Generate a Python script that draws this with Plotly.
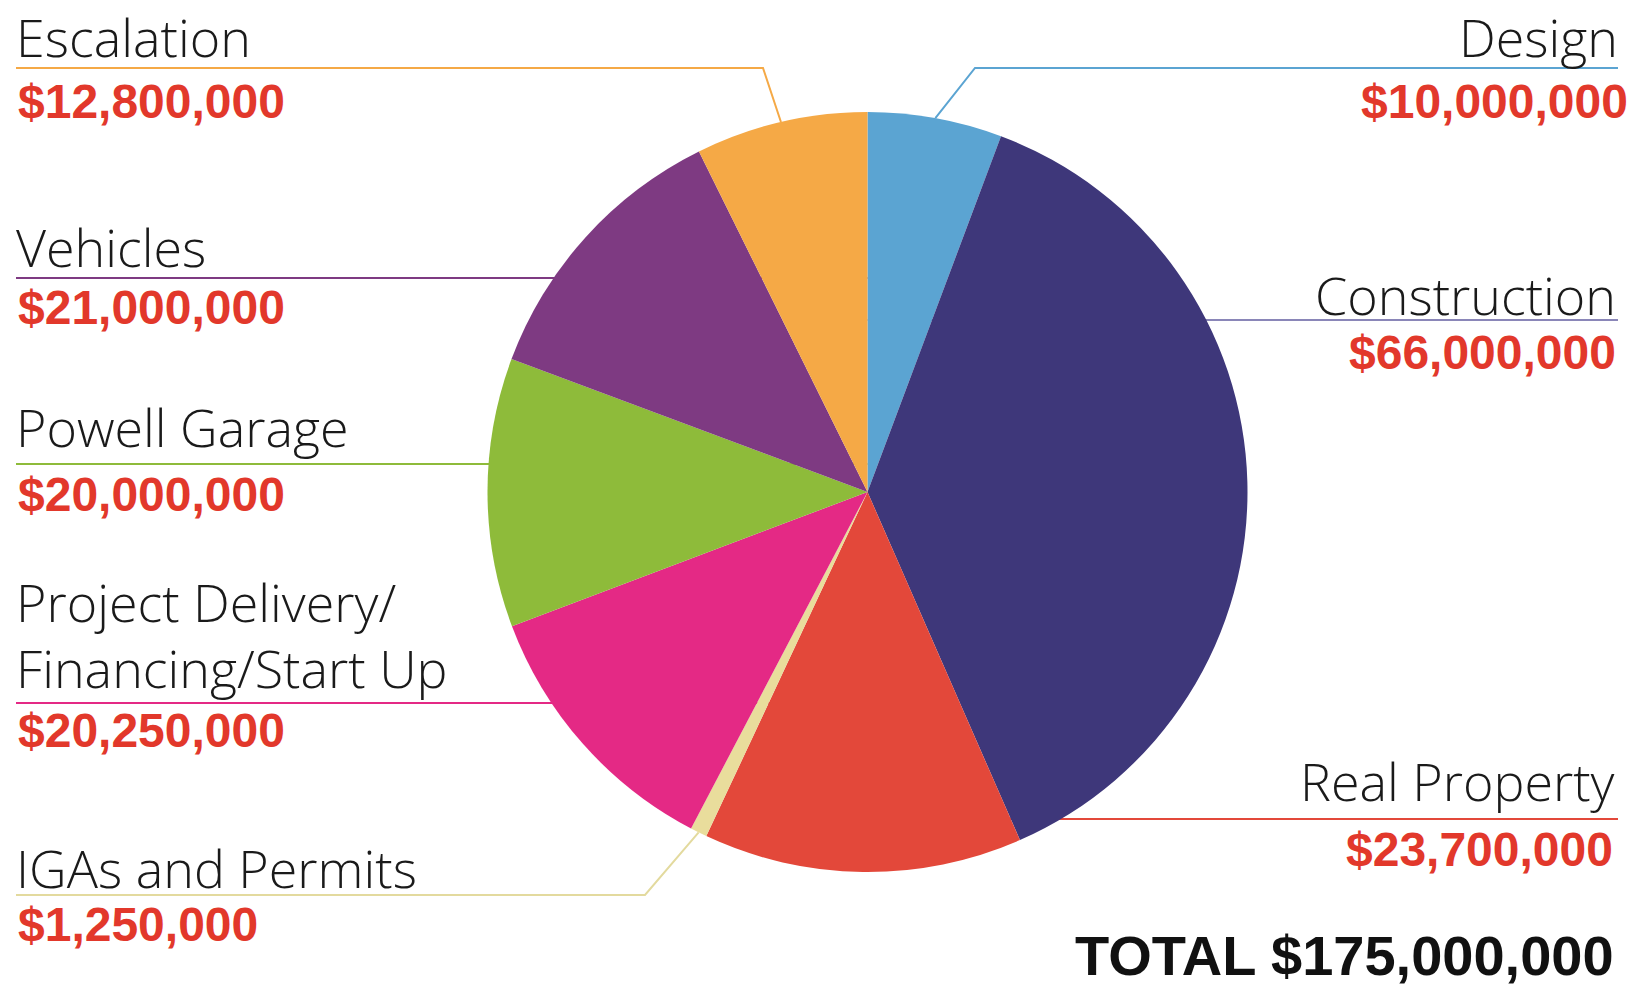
import math
import plotly.graph_objects as go

W, H = 1639, 987

# ---- data ----
categories = ["Design", "Construction", "Real Property", "IGAs and Permits",
              "Project Delivery/<br>Financing/Start Up", "Powell Garage",
              "Vehicles", "Escalation"]
values = [10_000_000, 66_000_000, 23_700_000, 1_250_000,
          20_250_000, 20_000_000, 21_000_000, 12_800_000]
colors = ["#5BA4D2", "#3E377A", "#E3483A", "#E9DD9C",
          "#E42985", "#8EBB3A", "#7E3A82", "#F5A946"]
line_colors = ["#5BA4D2", "#8A86B8", "#E3483A", "#E3DA9E",
               "#E42985", "#8EBB3A", "#7E3A82", "#F5A946"]

# ---- layout positions (pixels, from top-left) ----
CX, CY, R = 867.5, 492.0, 380.0
# side, label centre y, line y, value centre y, knee x, label edge x, value edge x
layout_pos = {
    "Design":        ("right", 36,  68,  101, 975, 1620, 1630),
    "Construction":  ("right", 294, 320, 352, None, 1618, 1618),
    "Real Property": ("right", 780, 819, 849, None, 1617, 1615),
    "IGAs and Permits": ("left", 867, 895, 924, 645, 14, 16),
    "Project Delivery/<br>Financing/Start Up": ("left", 634, 703, 730, None, 14, 16),
    "Powell Garage": ("left", 426, 464, 494, None, 14, 16),
    "Vehicles":      ("left", 247, 278, 307, None, 14, 16),
    "Escalation":    ("left", 37,  68,  101, 763, 14, 16),
}

LABEL_FONT = dict(family="Open Sans, Segoe UI, sans-serif", size=52, color="#1a1a1a", weight=300)
VALUE_FONT = dict(family="Liberation Sans, Arial", size=48, color="#E2382B", weight="bold")


def px(x):
    return x / W


def py(y):
    return 1 - y / H


fig = go.Figure(go.Pie(
    labels=categories, values=values, sort=False, direction="clockwise",
    rotation=0, marker=dict(colors=colors, line=dict(width=0)),
    textinfo="none", hoverinfo="label+value",
    domain=dict(x=[px(CX - R), px(CX + R)], y=[py(CY + R), py(CY - R)]),
))

shapes = []
annotations = []
total = sum(values)
cum = 0.0
for cat, val, lc in zip(categories, values, line_colors):
    mid = (cum + val / 2) / total * 2 * math.pi
    cum += val
    side, ly, liney, vy, knee, lx, vx = layout_pos[cat]
    ex = CX + R * math.sin(mid)
    ey = CY - R * math.cos(mid)
    outer = 16 if side == "left" else 1618
    if knee is None:
        path = f"M {px(outer)} {py(liney)} L {px(CX)} {py(liney)}"
    else:
        path = (f"M {px(outer)} {py(liney)} L {px(knee)} {py(liney)} "
                f"L {px(ex)} {py(ey)}")
    shapes.append(dict(type="path", path=path, xref="paper", yref="paper",
                       line=dict(color=lc, width=2), layer="below"))
    anchor = "left" if side == "left" else "right"
    lines = cat.split("<br>")
    n = len(lines)
    for i, t in enumerate(lines):
        yy = ly + (i - (n - 1) / 2) * 66
        annotations.append(dict(text=t, x=px(lx), y=py(yy), xref="paper", yref="paper",
                                xanchor=anchor, yanchor="middle", showarrow=False,
                                font=LABEL_FONT))
    annotations.append(dict(text=f"${val:,.0f}", x=px(vx), y=py(vy),
                            xref="paper", yref="paper",
                            xanchor=anchor, yanchor="middle", showarrow=False,
                            font=VALUE_FONT))

annotations.append(dict(text=f"TOTAL ${total:,.0f}", x=px(1616), y=py(955),
                        xref="paper", yref="paper", xanchor="right", yanchor="middle",
                        showarrow=False,
                        font=dict(family="Liberation Sans, Arial", size=56,
                                  color="#111111", weight="bold")))

fig.update_layout(width=W, height=H, margin=dict(l=0, r=0, t=0, b=0),
                  paper_bgcolor="white", plot_bgcolor="white",
                  showlegend=False, shapes=shapes, annotations=annotations)

fig.write_html("out.html")
